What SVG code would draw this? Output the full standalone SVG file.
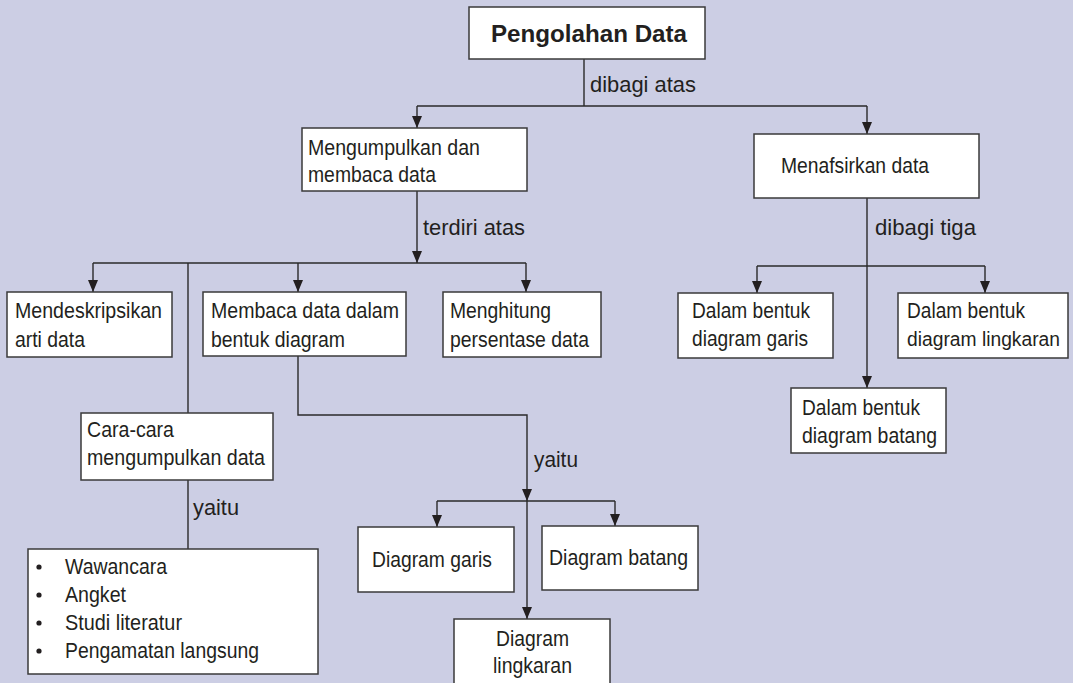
<svg xmlns="http://www.w3.org/2000/svg" width="1073" height="683" viewBox="0 0 1073 683">
<defs>
<style>
.box{fill:#ffffff;stroke:#3a3a3a;stroke-width:1.5}
.ln{fill:none;stroke:#2a2a2a;stroke-width:1.4}
.ar{fill:none;stroke:#2a2a2a;stroke-width:1.4;marker-end:url(#ah)}
.t{font-family:"Liberation Sans",Arial,sans-serif;font-size:22px;fill:#231f20}
.b{font-family:"Liberation Sans",Arial,sans-serif;font-size:24px;font-weight:bold;fill:#231f20}
</style>
<marker id="ah" markerUnits="userSpaceOnUse" markerWidth="12" markerHeight="10" refX="12" refY="5" orient="auto">
<path d="M0,0 L12,5 L0,10 z" fill="#231f20"/>
</marker>
</defs>
<rect x="0" y="0" width="1073" height="683" fill="#cccee4"/>
<g id="connectors">
<path class="ln" d="M584,59 V106 M417,106 H867"/>
<path class="ar" d="M417,106 V128"/>
<path class="ar" d="M867,106 V134"/>
<path class="ar" d="M417,191 V263"/>
<path class="ln" d="M93,263 H526"/>
<path class="ar" d="M93,263 V292"/>
<path class="ar" d="M298,263 V292"/>
<path class="ar" d="M526,263 V292"/>
<path class="ln" d="M188,263 V413"/>
<path class="ln" d="M188,480 V549"/>
<path class="ar" d="M298,356 V415 H527 V501"/>
<path class="ln" d="M437,501 H615"/>
<path class="ar" d="M437,501 V527"/>
<path class="ar" d="M615,501 V526"/>
<path class="ar" d="M527,501 V619"/>
<path class="ar" d="M867,198 V388"/>
<path class="ln" d="M757,266 H985"/>
<path class="ar" d="M757,266 V293"/>
<path class="ar" d="M985,266 V293"/>
<text class="t" x="590" y="92" textLength="106" lengthAdjust="spacingAndGlyphs">dibagi atas</text>
<text class="t" x="423" y="235" textLength="102" lengthAdjust="spacingAndGlyphs">terdiri atas</text>
<text class="t" x="875" y="235" textLength="101" lengthAdjust="spacingAndGlyphs">dibagi tiga</text>
<text class="t" x="193" y="515" textLength="46" lengthAdjust="spacingAndGlyphs">yaitu</text>
<text class="t" x="534" y="467" textLength="44" lengthAdjust="spacingAndGlyphs">yaitu</text>
</g>
<g id="n-pengolahan">
<rect class="box" x="469" y="7" width="236" height="52"/>
<text class="b" x="491" y="42" textLength="196" lengthAdjust="spacingAndGlyphs">Pengolahan Data</text>
</g>
<g id="n-mengumpulkan">
<rect class="box" x="302" y="128" width="225" height="63"/>
<text class="t" x="308" y="155" textLength="172" lengthAdjust="spacingAndGlyphs">Mengumpulkan dan</text>
<text class="t" x="308" y="182" textLength="128" lengthAdjust="spacingAndGlyphs">membaca data</text>
</g>
<g id="n-menafsirkan">
<rect class="box" x="754" y="134" width="225" height="64"/>
<text class="t" x="781" y="173" textLength="148" lengthAdjust="spacingAndGlyphs">Menafsirkan data</text>
</g>
<g id="n-mendeskripsikan">
<rect class="box" x="7" y="292" width="165" height="65"/>
<text class="t" x="15" y="318" textLength="147" lengthAdjust="spacingAndGlyphs">Mendeskripsikan</text>
<text class="t" x="15" y="347" textLength="70" lengthAdjust="spacingAndGlyphs">arti data</text>
</g>
<g id="n-membaca">
<rect class="box" x="203" y="292" width="203" height="64"/>
<text class="t" x="211" y="318" textLength="188" lengthAdjust="spacingAndGlyphs">Membaca data dalam</text>
<text class="t" x="211" y="347" textLength="134" lengthAdjust="spacingAndGlyphs">bentuk diagram</text>
</g>
<g id="n-menghitung">
<rect class="box" x="443" y="292" width="158" height="65"/>
<text class="t" x="450" y="318" textLength="101" lengthAdjust="spacingAndGlyphs">Menghitung</text>
<text class="t" x="450" y="347" textLength="139" lengthAdjust="spacingAndGlyphs">persentase data</text>
</g>
<g id="n-caracara">
<rect class="box" x="81" y="413" width="192" height="67"/>
<text class="t" x="87" y="437" textLength="87" lengthAdjust="spacingAndGlyphs">Cara-cara</text>
<text class="t" x="87" y="465" textLength="178" lengthAdjust="spacingAndGlyphs">mengumpulkan data</text>
</g>
<g id="n-cara-list">
<rect class="box" x="28" y="549" width="290" height="125"/>
<circle cx="39" cy="567" r="2.6" fill="#231f20"/>
<circle cx="39" cy="595" r="2.6" fill="#231f20"/>
<circle cx="39" cy="623" r="2.6" fill="#231f20"/>
<circle cx="39" cy="651" r="2.6" fill="#231f20"/>
<text class="t" x="65" y="574" textLength="102" lengthAdjust="spacingAndGlyphs">Wawancara</text>
<text class="t" x="65" y="602" textLength="61" lengthAdjust="spacingAndGlyphs">Angket</text>
<text class="t" x="65" y="630" textLength="117" lengthAdjust="spacingAndGlyphs">Studi literatur</text>
<text class="t" x="65" y="658" textLength="194" lengthAdjust="spacingAndGlyphs">Pengamatan langsung</text>
</g>
<g id="n-diagram-garis">
<rect class="box" x="358" y="527" width="156" height="65"/>
<text class="t" x="372" y="567" textLength="120" lengthAdjust="spacingAndGlyphs">Diagram garis</text>
</g>
<g id="n-diagram-batang">
<rect class="box" x="542" y="526" width="156" height="64"/>
<text class="t" x="549" y="565" textLength="139" lengthAdjust="spacingAndGlyphs">Diagram batang</text>
</g>
<g id="n-diagram-lingkaran">
<rect class="box" x="454" y="619" width="156" height="75"/>
<text class="t" x="496" y="646" textLength="73" lengthAdjust="spacingAndGlyphs">Diagram</text>
<text class="t" x="493" y="673" textLength="79" lengthAdjust="spacingAndGlyphs">lingkaran</text>
</g>
<g id="n-bentuk-garis">
<rect class="box" x="678" y="293" width="155" height="65"/>
<text class="t" x="692" y="318" textLength="118" lengthAdjust="spacingAndGlyphs">Dalam bentuk</text>
<text class="t" x="692" y="346" textLength="116" lengthAdjust="spacingAndGlyphs">diagram garis</text>
</g>
<g id="n-bentuk-lingkaran">
<rect class="box" x="898" y="293" width="170" height="65"/>
<text class="t" x="907" y="318" textLength="118" lengthAdjust="spacingAndGlyphs">Dalam bentuk</text>
<text class="t" x="907" y="346" style="font-size:19.5px" textLength="153" lengthAdjust="spacingAndGlyphs">diagram lingkaran</text>
</g>
<g id="n-bentuk-batang">
<rect class="box" x="791" y="388" width="155" height="65"/>
<text class="t" x="802" y="415" textLength="118" lengthAdjust="spacingAndGlyphs">Dalam bentuk</text>
<text class="t" x="802" y="443" textLength="135" lengthAdjust="spacingAndGlyphs">diagram batang</text>
</g>
</svg>
